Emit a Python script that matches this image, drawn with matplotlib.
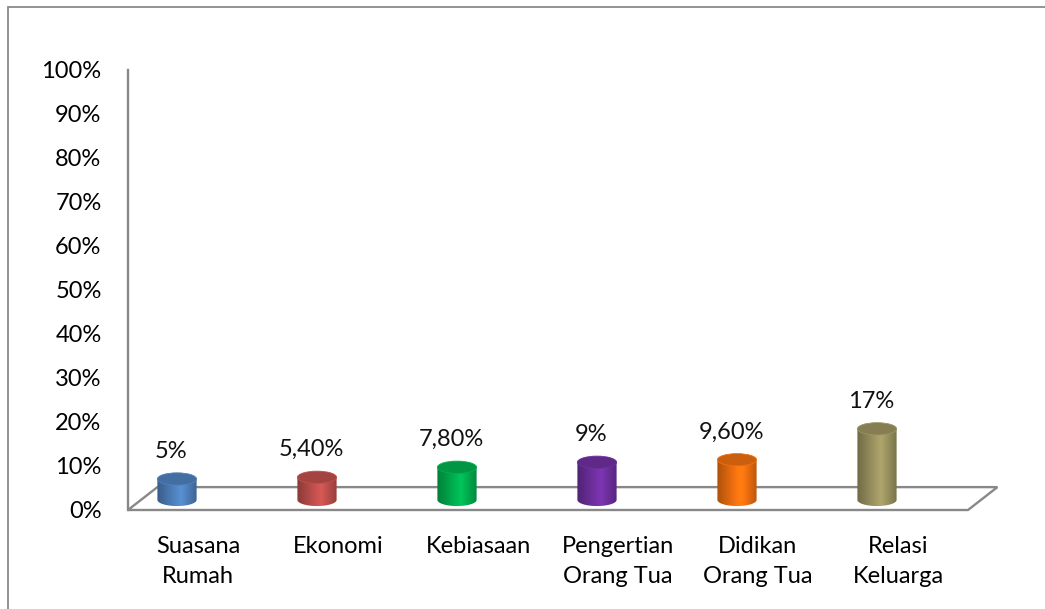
import matplotlib
matplotlib.use('Agg')
import matplotlib.pyplot as plt
import numpy as np
from matplotlib.patches import Ellipse, Polygon, Rectangle
from matplotlib.path import Path
from matplotlib.colors import to_rgb

plt.rcParams['font.family'] = ['Lato', 'DejaVu Sans']

categories = ['Suasana\nRumah', 'Ekonomi', 'Kebiasaan', 'Pengertian\nOrang Tua',
              'Didikan\nOrang Tua', 'Relasi\nKeluarga']
values = [5, 5.4, 7.8, 9, 9.6, 17]
value_labels = ['5%', '5,40%', '7,80%', '9%', '9,60%', '17%']
colors = ['#4F81BD', '#C0504D', '#00B050', '#7030A0', '#F07010', '#9C9461']
yticks = list(range(0, 101, 10))

W, H = 1045, 609
fig = plt.figure(figsize=(W / 100, H / 100), dpi=100)
ax = fig.add_axes([128 / W, (H - 510) / H, 840 / W, 440 / H])

# outer chart border
fig.patches.append(Rectangle((8 / W, -0.1), 1.2, (H - 7) / H + 0.1, transform=fig.transFigure,
                             fill=False, edgecolor='#8a8a8a', lw=1.3))

gray = '#888888'
depth_x, depth_y = 0.21, 5.2   # 3D depth of the floor in data units

# floor parallelogram
floor = Polygon([(-0.5, 0), (-0.5 + depth_x, depth_y), (5.5 + depth_x, depth_y), (5.5, 0)],
                closed=True, facecolor='white', edgecolor=gray, lw=1.7, clip_on=False, zorder=1)
ax.add_patch(floor)
ax.plot([-0.5, -0.5], [0, 100], color=gray, lw=1.7, clip_on=False, zorder=1)

cyl_w = 0.28
ell_h = 2.8
base = 2.3
scale = 0.95
shift = -0.15
fs = 17

grad = np.concatenate([np.linspace(0.72, 1.12, 60), np.linspace(1.12, 0.78, 40)])

for i, (v, c, lab) in enumerate(zip(values, colors, value_labels)):
    xc = i + shift
    xl, xr = xc - cyl_w / 2, xc + cyl_w / 2
    top = base + v * scale
    rgb = np.array(to_rgb(c))
    img = np.clip(grad[None, :, None] * rgb[None, None, :], 0, 1)
    t = np.linspace(np.pi, 2 * np.pi, 60)
    arc = np.column_stack([xc + cyl_w / 2 * np.cos(t), base + ell_h / 2 * np.sin(t)])
    verts = np.vstack([[xl, top], arc, [xr, top], [xl, top]])
    clip = Path(verts, closed=True)
    im = ax.imshow(img, extent=[xl, xr, base - ell_h, top + ell_h], aspect='auto',
                   interpolation='bilinear', zorder=3, clip_on=True)
    im.set_clip_path(clip, transform=ax.transData)
    ax.add_patch(Ellipse((xc, top), cyl_w, ell_h, facecolor=np.clip(rgb * 0.85, 0, 1),
                         edgecolor=np.clip(rgb * 1.0, 0, 1), lw=0.6, zorder=4, clip_on=False))
    ax.annotate(lab, (xc - 0.04, top + ell_h / 2), xytext=(0, 8), textcoords='offset points',
                ha='center', va='bottom', fontsize=fs, color='#111111', zorder=5)

ax.set_xlim(-0.5, 5.5)
ax.set_ylim(0, 100)
ax.set_yticks(yticks)
ax.set_yticklabels([f'{t}%' for t in yticks])
ax.set_xticks(range(len(categories)))
ax.set_xticklabels(categories)
ax.tick_params(axis='y', length=0, pad=19, labelsize=fs)
ax.tick_params(axis='x', length=0, pad=19, labelsize=fs)
for tl in ax.get_xticklabels():
    tl.set_linespacing(1.5)
for s in ax.spines.values():
    s.set_visible(False)
ax.patch.set_visible(False)

fig.savefig('out.png', dpi=100)
